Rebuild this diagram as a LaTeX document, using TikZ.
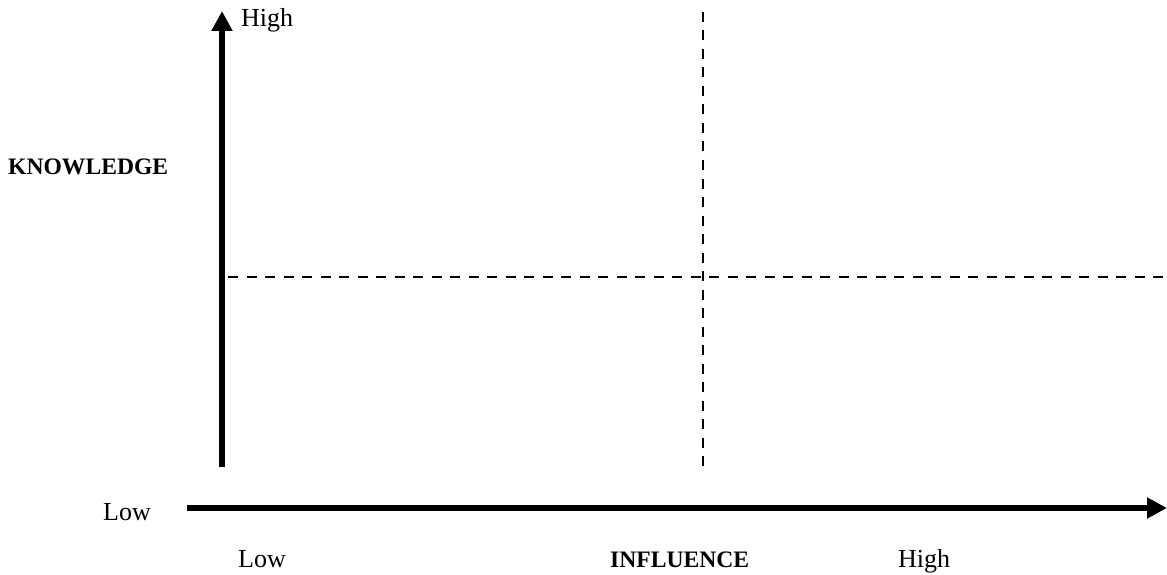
\documentclass[tikz,border=0pt]{standalone}
\usepackage{fontspec}
\setmainfont{Liberation Serif}
\usetikzlibrary{arrows.meta}
\begin{document}
\begin{tikzpicture}[x=1pt,y=-1pt,
  axis/.style={line width=5.5pt,-{Triangle[length=20pt,width=20pt]}},
  grid/.style={line width=2.6pt,dash pattern=on 10pt off 8.5pt},
  lbl/.style={inner sep=0pt,anchor=base west,font=\fontsize{26}{30}\selectfont},
  blbl/.style={lbl,font=\fontsize{23.6}{28}\selectfont\bfseries}]
\useasboundingbox (0,0) rectangle (1167,575);
\coordinate (ybot) at (222,467);
\coordinate (ytop) at (222,11);
\coordinate (xl) at (187,508);
\coordinate (xr) at (1167,508);
\coordinate (vt) at (703,12);
\coordinate (vb) at (703,472);
\coordinate (hl) at (228,277);
\coordinate (hr) at (1167,277);
\draw[grid] (vt) -- (vb);
\draw[grid] (hl) -- (hr);
\draw[axis] (ybot) -- (ytop);
\draw[axis] (xl) -- (xr);
\node[lbl] (yhigh) at (241,27) {High};
\node[blbl] (ylab) at (8,175) {KNOWLEDGE};
\node[lbl] (ylow) at (103,520) {Low};
\node[lbl] (xlow) at (238,567) {Low};
\node[blbl] (xlab) at (610,567) {INFLUENCE};
\node[lbl] (xhigh) at (898,567) {High};
\end{tikzpicture}
\end{document}
